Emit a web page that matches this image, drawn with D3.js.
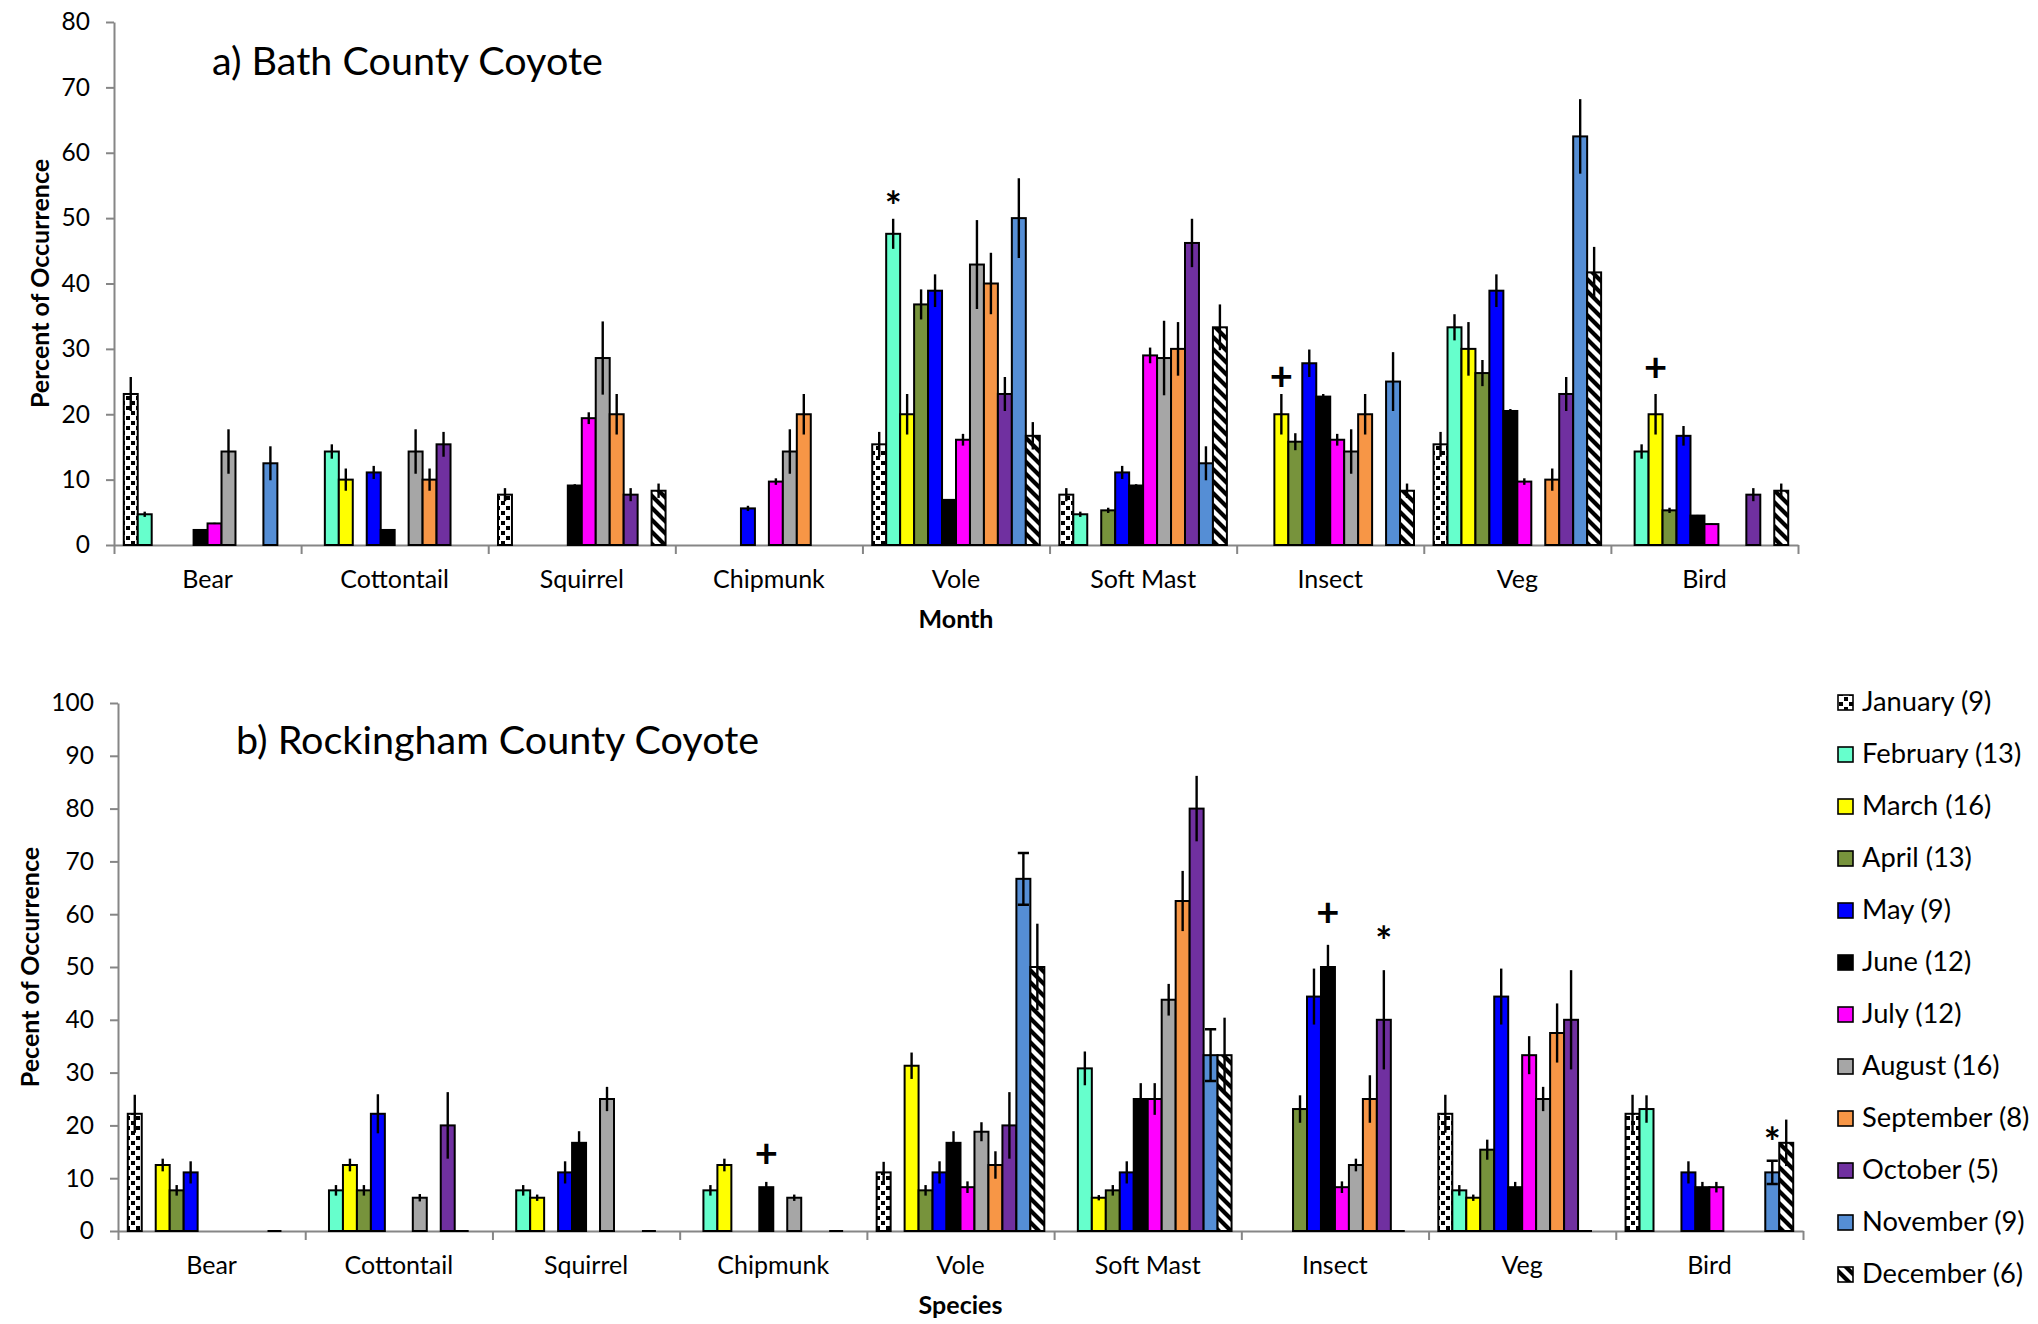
<!DOCTYPE html>
<html>
<head>
<meta charset="utf-8">
<script src="https://cdn.jsdelivr.net/npm/d3@7"></script>
<style>
  html, body { margin: 0; padding: 0; background: #fff; }
  svg { display: block; font-family: Lato, "Open Sans", sans-serif; }
</style>
</head>
<body>
<svg id="fig" width="2038" height="1324"></svg>
<script>
// Prey categories on the x axis
const categories = ["Bear", "Cottontail", "Squirrel", "Chipmunk", "Vole", "Soft Mast", "Insect", "Veg", "Bird"];
// Months (one bar series each) and scats collected per month
const months = ["January", "February", "March", "April", "May", "June", "July",
                "August", "September", "October", "November", "December"];
const monthCounts = [9, 13, 16, 13, 9, 12, 12, 16, 8, 5, 9, 6];
const monthFills = ["url(#pat-jan)", "#66FFCC", "#FFFF00", "#77933C", "#0000FF", "#000000",
                    "#FF00FF", "#A6A6A6", "#F79646", "#7030A0", "#558ED5", "url(#pat-dec)"];

// a) Bath County: percent of occurrence, one row per category, Jan..Dec (null = none)
const bathPercent = [
  [23.1, 4.7, null, null, null, 2.3, 3.3, 14.3, null, null, 12.5, null],
  [null, 14.3, 10.0, null, 11.1, 2.3, null, 14.3, 10.0, 15.4, null, null],
  [7.7, null, null, null, null, 9.1, 19.4, 28.6, 20.0, 7.7, null, 8.3],
  [null, null, null, null, 5.6, null, 9.7, 14.3, 20.0, null, null, null],
  [15.4, 47.6, 20.0, 36.8, 38.9, 6.9, 16.1, 42.9, 40.0, 23.1, 50.0, 16.7],
  [7.7, 4.7, null, 5.3, 11.1, 9.1, 29.0, 28.6, 30.0, 46.2, 12.5, 33.3],
  [null, null, 20.0, 15.8, 27.8, 22.7, 16.1, 14.3, 20.0, null, 25.0, 8.3],
  [15.4, 33.3, 30.0, 26.3, 38.9, 20.5, 9.7, null, 10.0, 23.1, 62.5, 41.7],
  [null, 14.3, 20.0, 5.3, 16.7, 4.5, 3.2, null, null, 7.7, null, 8.3]
];
// a) Bath County: standard error of each bar
const bathError = [
  [2.6, 0.4, 0, 0, 0, 0.1, 0.1, 3.4, 0, 0, 2.6, 0],
  [0, 1.1, 1.7, 0, 1.0, 0.1, 0, 3.4, 1.7, 1.9, 0, 0],
  [1.0, 0, 0, 0, 0, 0.2, 0.9, 5.6, 3.1, 1.0, 0, 1.1],
  [0, 0, 0, 0, 0.4, 0, 0.5, 3.4, 3.1, 0, 0, 0],
  [1.9, 2.3, 3.1, 2.3, 2.5, 0.1, 0.9, 6.8, 4.7, 2.6, 6.1, 2.1],
  [1.0, 0.4, 0, 0.4, 1.0, 0.2, 1.2, 5.7, 4.1, 3.7, 2.6, 3.5],
  [0, 0, 3.1, 1.3, 2.1, 0.4, 0.9, 3.4, 3.1, 0, 4.5, 1.1],
  [1.9, 2.0, 4.1, 2.0, 2.5, 0.3, 0.5, 0, 1.7, 2.6, 5.7, 3.9],
  [0, 1.1, 3.1, 0.4, 1.5, 0.1, 0.1, 0, 0, 1.0, 0, 1.1]
];

// b) Rockingham County: percent of occurrence, one row per category, Jan..Dec
const rockPercent = [
  [22.2, null, 12.5, 7.7, 11.1, null, null, null, null, null, 0, null],
  [null, 7.7, 12.5, 7.7, 22.2, null, null, 6.3, null, 20.0, 0, null],
  [null, 7.7, 6.3, null, 11.1, 16.7, null, 25.0, null, null, 0, null],
  [null, 7.7, 12.5, null, null, 8.3, null, 6.3, null, null, 0, null],
  [11.1, null, 31.3, 7.7, 11.1, 16.7, 8.3, 18.8, 12.5, 20.0, 66.7, 50.0],
  [null, 30.8, 6.3, 7.7, 11.1, 25.0, 25.0, 43.8, 62.5, 80.0, 33.3, 33.3],
  [null, null, null, 23.1, 44.4, 50.0, 8.3, 12.5, 25.0, 40.0, 0, null],
  [22.2, 7.7, 6.3, 15.4, 44.4, 8.3, 33.3, 25.0, 37.5, 40.0, 0, null],
  [22.2, 23.1, null, null, 11.1, 8.3, 8.3, null, null, null, 11.1, 16.7]
];
// b) Rockingham County: standard error of each bar
const rockError = [
  [3.6, 0, 1.2, 1.0, 2.1, 0, 0, 0, 0, 0, 0, 0],
  [0, 1.0, 1.2, 1.0, 3.7, 0, 0, 0.7, 0, 6.3, 0, 0],
  [0, 1.0, 0.6, 0, 2.1, 2.2, 0, 2.3, 0, 0, 0, 0],
  [0, 1.0, 1.2, 0, 0, 1.0, 0, 0.6, 0, 0, 0, 0],
  [2.0, 0, 2.5, 1.0, 2.1, 2.2, 1.1, 1.8, 2.6, 6.3, 4.9, 8.2],
  [0, 3.2, 0.5, 1.0, 2.1, 3.0, 3.0, 3.0, 5.7, 6.2, 4.9, 7.1],
  [0, 0, 0, 2.6, 5.3, 4.2, 1.1, 1.2, 4.5, 9.4, 0, 0],
  [3.6, 1.0, 0.6, 1.9, 5.3, 1.0, 3.6, 2.3, 5.6, 9.4, 0, 0],
  [3.6, 2.6, 0, 0, 2.1, 1.0, 1.0, 0, 0, 0, 2.2, 4.4]
];
// Months whose error bars carry end caps in panel b
const rockCappedMonths = ["November"];

// Axis tick values
const bathTicks = [0, 10, 20, 30, 40, 50, 60, 70, 80];
const rockTicks = [0, 10, 20, 30, 40, 50, 60, 70, 80, 90, 100];

// Significance symbols: category, month, symbol, level (percent) of the symbol centre
const bathMarkCats = ["Vole", "Insect", "Bird"];
const bathMarkMonths = ["February", "March", "March"];
const bathMarkSymbols = ["*", "+", "+"];
const bathMarkLevels = [53.3, 25.8, 27.1];
const rockMarkCats = ["Chipmunk", "Insect", "Insect", "Bird"];
const rockMarkMonths = ["June", "June", "October", "November"];
const rockMarkSymbols = ["+", "+", "*", "*"];
const rockMarkLevels = [14.7, 60.3, 56.7, 18.8];

const svg = d3.select("#fig");
svg.append("rect").attr("width", 2038).attr("height", 1324).attr("fill", "#fff");

// Fill patterns for January (dots) and December (wide diagonal stripes)
const defs = svg.append("defs");
const pj = defs.append("pattern").attr("id", "pat-jan")
  .attr("patternUnits", "userSpaceOnUse").attr("width", 10).attr("height", 10);
pj.append("rect").attr("width", 10).attr("height", 10).attr("fill", "#fff");
pj.append("rect").attr("x", 1).attr("y", 1).attr("width", 4).attr("height", 4).attr("fill", "#000");
pj.append("rect").attr("x", 6).attr("y", 6).attr("width", 4).attr("height", 4).attr("fill", "#000");
const pd = defs.append("pattern").attr("id", "pat-dec")
  .attr("patternUnits", "userSpaceOnUse").attr("width", 12).attr("height", 12);
pd.append("rect").attr("width", 12).attr("height", 12).attr("fill", "#fff");
pd.append("path").attr("d", "M-3,-3L15,15M-3,9L3,15M9,-3L15,3")
  .attr("stroke", "#000").attr("stroke-width", 4.2);

const AXIS_GREY = "#868686";

function drawPanel(p) {
  const g = svg.append("g");
  const x = d3.scaleBand().domain(categories).range([p.left, p.right]).padding(0);
  const xm = d3.scaleBand().domain(months).range([0, x.bandwidth()])
    .paddingInner(0).paddingOuter(0.7);
  const y = d3.scaleLinear().domain([0, p.max]).range([p.bottom, p.top]);

  // y axis
  const ya = g.append("g").attr("transform", `translate(${p.left},0)`)
    .call(d3.axisLeft(y).tickValues(p.ticks).tickSize(8).tickPadding(16).tickSizeOuter(0));
  ya.select(".domain").attr("stroke", AXIS_GREY).attr("stroke-width", 2);
  ya.selectAll(".tick line").attr("stroke", AXIS_GREY).attr("stroke-width", 2);
  ya.selectAll(".tick text").attr("font-size", 24.5).attr("fill", "#000")
    .attr("font-family", "Lato, sans-serif");

  // x axis line with ticks between categories
  const xb = d3.scaleLinear().domain([0, categories.length]).range([p.left, p.right]);
  const xa = g.append("g").attr("transform", `translate(0,${p.bottom})`)
    .call(d3.axisBottom(xb).tickValues(d3.range(categories.length + 1))
      .tickSize(9).tickSizeOuter(0).tickFormat(""));
  xa.select(".domain").attr("stroke", AXIS_GREY).attr("stroke-width", 2);
  xa.selectAll(".tick line").attr("stroke", AXIS_GREY).attr("stroke-width", 2);

  // category labels
  const xl = g.append("g").attr("transform", `translate(0,${p.bottom})`)
    .call(d3.axisBottom(x).tickSize(0));
  xl.select(".domain").remove();
  xl.selectAll(".tick text").attr("dy", null).attr("y", 43)
    .attr("font-size", 25).attr("fill", "#000").attr("font-family", "Lato, sans-serif");

  // bar records
  const rows = [];
  categories.forEach((c, i) => months.forEach((m, j) => {
    const v = p.values[i][j];
    if (v !== null) rows.push({ c, m, j, v, e: p.errors[i][j] });
  }));
  const bx = d => x(d.c) + xm(d.m);
  const cx = d => bx(d) + xm.bandwidth() / 2;

  g.append("g").selectAll("rect").data(rows.filter(d => d.v > 0)).join("rect")
    .attr("x", bx).attr("width", xm.bandwidth())
    .attr("y", d => y(d.v)).attr("height", d => y(0) - y(d.v))
    .attr("fill", d => monthFills[d.j]).attr("stroke", "#000").attr("stroke-width", 2);

  // zero-height bars show only their outline on the baseline
  g.append("g").selectAll("line").data(rows.filter(d => d.v === 0)).join("line")
    .attr("x1", bx).attr("x2", d => bx(d) + xm.bandwidth())
    .attr("y1", y(0)).attr("y2", y(0)).attr("stroke", "#000").attr("stroke-width", 2);

  // error bars
  const eb = rows.filter(d => d.v > 0 && d.e > 0);
  g.append("g").selectAll("line").data(eb).join("line")
    .attr("x1", cx).attr("x2", cx)
    .attr("y1", d => y(d.v - d.e)).attr("y2", d => y(d.v + d.e))
    .attr("stroke", "#000").attr("stroke-width", 2.4);
  const caps = eb.filter(d => p.capped.includes(d.m));
  const capW = xm.bandwidth() * 0.8;
  g.append("g").selectAll("path").data(caps).join("path")
    .attr("d", d => `M${cx(d) - capW / 2},${y(d.v + d.e)}h${capW}M${cx(d) - capW / 2},${y(d.v - d.e)}h${capW}`)
    .attr("stroke", "#000").attr("stroke-width", 2.4).attr("fill", "none");

  // significance symbols
  const marks = p.markCats.map((c, k) => ({ c, m: p.markMonths[k], s: p.markSymbols[k], lv: p.markLevels[k] }));
  g.append("g").selectAll("text").data(marks).join("text")
    .attr("x", d => x(d.c) + xm(d.m) + xm.bandwidth() / 2)
    .attr("y", d => y(d.lv))
    .attr("dy", d => d.s === "*" ? "0.62em" : "0.33em")
    .attr("text-anchor", "middle").attr("font-weight", 700)
    .attr("font-size", 40)
    .text(d => d.s);

  // titles
  g.append("text").attr("x", p.titleX).attr("y", p.titleY)
    .attr("font-size", 39.5).text(p.title);
  g.append("text").attr("x", (p.left + p.right) / 2).attr("y", p.bottom + 83)
    .attr("text-anchor", "middle").attr("font-size", 25).attr("font-weight", 700)
    .text(p.xTitle);
  g.append("text")
    .attr("transform", `translate(${p.yTitleX},${(p.top + p.bottom) / 2}) rotate(-90)`)
    .attr("text-anchor", "middle").attr("font-size", 25).attr("font-weight", 700)
    .text(p.yTitle);
}

drawPanel({
  left: 114, right: 1798, top: 22, bottom: 545, max: 80, ticks: bathTicks,
  values: bathPercent, errors: bathError, capped: [],
  markCats: bathMarkCats, markMonths: bathMarkMonths, markSymbols: bathMarkSymbols, markLevels: bathMarkLevels,
  title: "a) Bath County Coyote", titleX: 212, titleY: 75,
  xTitle: "Month", yTitle: "Percent of Occurrence", yTitleX: 49
});
drawPanel({
  left: 118, right: 1803, top: 703, bottom: 1231, max: 100, ticks: rockTicks,
  values: rockPercent, errors: rockError, capped: rockCappedMonths,
  markCats: rockMarkCats, markMonths: rockMarkMonths, markSymbols: rockMarkSymbols, markLevels: rockMarkLevels,
  title: "b) Rockingham County Coyote", titleX: 236, titleY: 754,
  xTitle: "Species", yTitle: "Pecent of Occurrence", yTitleX: 39
});

// legend
const lg = svg.append("g");
const legendY = d3.scaleLinear().domain([0, months.length - 1]).range([711, 1283]);
const items = lg.selectAll("g").data(months).join("g")
  .attr("transform", (m, i) => `translate(1838,${legendY(i)})`);
items.append("rect").attr("x", 0).attr("y", -16).attr("width", 15).attr("height", 15)
  .attr("fill", (m, i) => monthFills[i]).attr("stroke", "#000").attr("stroke-width", 1.6);
items.append("text").attr("x", 24).attr("y", 0).attr("font-size", 27.3)
  .text((m, i) => `${m} (${monthCounts[i]})`);
</script>
</body>
</html>
